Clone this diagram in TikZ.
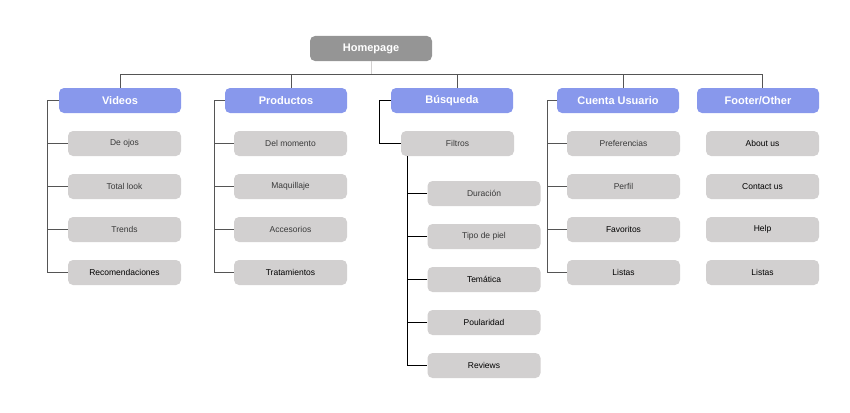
\documentclass[tikz,border=0pt]{standalone}
\usepackage{fontspec}
\setmainfont{Liberation Sans}
\begin{document}
\begin{tikzpicture}[x=1pt,y=-1pt,
  box/.style={rounded corners=5pt,minimum width=122pt,minimum height=25pt,inner sep=0pt},
  top/.style={box,fill=hpg,text=white,font=\bfseries\fontsize{11}{13}\selectfont},
  cat/.style={box,fill=catb,text=white,font=\bfseries\fontsize{11}{13}\selectfont},
  leaf/.style={box,fill=leafg,minimum width=113pt,text=lt,font=\fontsize{8.5}{10}\selectfont},
  dk/.style={text=black},
  ln/.style={draw=linec,line width=0.8pt}]
\definecolor{hpg}{HTML}{959595}
\definecolor{catb}{HTML}{8898EC}
\definecolor{leafg}{HTML}{D2D0D0}
\definecolor{lt}{HTML}{3A3A3A}
\definecolor{linec}{HTML}{555555}
\useasboundingbox (0,0) rectangle (850,412);
\node[top] (home) at (371,48.5) {Homepage};
\node[cat] (vid) at (120,100.5) {Videos};
\node[cat] (pro) at (286,100.5) {Productos};
\node[cat] (bus) at (452,100.5) {Búsqueda};
\node[cat] (cue) at (618,100.5) {Cuenta Usuario};
\node[cat] (foo) at (758,100.5) {Footer/Other};
\coordinate (hj) at (371,74);
\coordinate (hl) at (120,74);
\coordinate (hr) at (762,74);
\draw[draw=leafg,line width=0.8pt] (home.south) -- (hj);
\draw[ln] (hl) -- (hr);
\foreach \n/\x in {vid/120,pro/291,bus/457,cue/623,foo/762}{
  \coordinate (t\n) at (\x,74);
  \draw[ln] (t\n) -- (\x,88);
}
% Videos
\node[leaf] (v1) at (124.5,143.5) {De ojos};
\node[leaf] (v2) at (124.5,186.5) {Total look};
\node[leaf] (v3) at (124.5,229.5) {Trends};
\node[leaf,dk] (v4) at (124.5,272.5) {Recomendaciones};
\coordinate (va) at (47,100.5);
\coordinate (vb) at (47,272.5);
\draw[ln] (vid.west) -- (va) -- (vb) -- (v4.west);
\foreach \c in {v1,v2,v3}{\draw[ln] (\c.west) -- (\c.west -| va);}
% Productos
\node[leaf] (p1) at (290.5,143.5) {Del momento};
\node[leaf] (p2) at (290.5,186.5) {Maquillaje};
\node[leaf] (p3) at (290.5,229.5) {Accesorios};
\node[leaf,dk] (p4) at (290.5,272.5) {Tratamientos};
\coordinate (pa) at (214,100.5);
\coordinate (pb) at (214,272.5);
\draw[ln] (pro.west) -- (pa) -- (pb) -- (p4.west);
\foreach \c in {p1,p2,p3}{\draw[ln] (\c.west) -- (\c.west -| pa);}
% Busqueda
\node[leaf] (fil) at (457.5,143.5) {Filtros};
\coordinate (ba) at (379,100.5);
\coordinate (bb) at (379,143.5);
\draw[ln,draw=black] (bus.west) -- (ba) -- (bb) -- (fil.west);
\node[leaf] (f1) at (484,193.5) {Duración};
\node[leaf] (f2) at (484,236.5) {Tipo de piel};
\node[leaf,dk] (f3) at (484,279.5) {Temática};
\node[leaf,dk] (f4) at (484,322.5) {Poularidad};
\node[leaf,dk] (f5) at (484,365.5) {Reviews};
\coordinate (fa) at (407,156);
\coordinate (fb) at (407,365.5);
\draw[ln,draw=black] (fa) -- (fb) -- (f5.west);
\foreach \c in {f1,f2,f3,f4}{\draw[ln,draw=black] (\c.west) -- (\c.west -| fa);}
% Cuenta
\node[leaf] (c1) at (623.5,143.5) {Preferencias};
\node[leaf] (c2) at (623.5,186.5) {Perfil};
\node[leaf,dk] (c3) at (623.5,229.5) {Favoritos};
\node[leaf,dk] (c4) at (623.5,272.5) {Listas};
\coordinate (ca) at (547,100.5);
\coordinate (cb) at (547,272.5);
\draw[ln] (cue.west) -- (ca) -- (cb) -- (c4.west);
\foreach \c in {c1,c2,c3}{\draw[ln] (\c.west) -- (\c.west -| ca);}
% Footer
\node[leaf,dk] (o1) at (762.5,143.5) {About us};
\node[leaf,dk] (o2) at (762.5,186.5) {Contact us};
\node[leaf,dk] (o3) at (762.5,229.5) {Help};
\node[leaf,dk] (o4) at (762.5,272.5) {Listas};
\end{tikzpicture}
\end{document}
